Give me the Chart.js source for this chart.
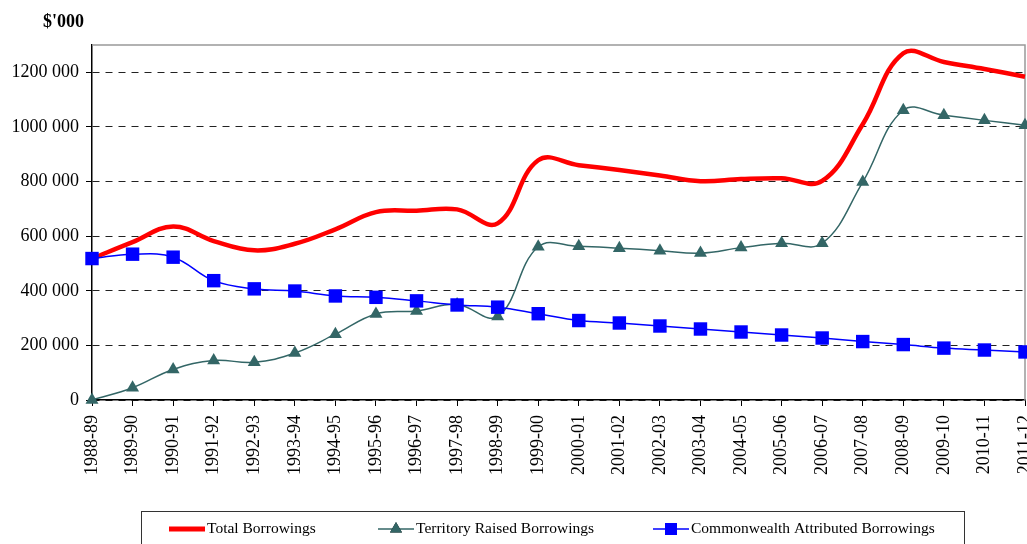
<!DOCTYPE html>
<html>
<head>
<meta charset="utf-8">
<script src="https://cdn.jsdelivr.net/npm/chart.js@4.4.0/dist/chart.umd.min.js"></script>
<style>
  html, body { margin: 0; padding: 0; background: #fff; overflow: hidden; }
  #wrap { width: 1027px; height: 544px; }
</style>
</head>
<body>
<div id="wrap"><canvas id="borrowings" width="1027" height="544"></canvas></div>
<script>
const years = ['1988-89', '1989-90', '1990-91', '1991-92', '1992-93', '1993-94', '1994-95', '1995-96',
  '1996-97', '1997-98', '1998-99', '1999-00', '2000-01', '2001-02', '2002-03', '2003-04', '2004-05',
  '2005-06', '2006-07', '2007-08', '2008-09', '2009-10', '2010-11', '2011-12'];

// $'000
const totalBorrowings = [518000, 578000, 635000, 582000, 548000, 572000, 625000, 688000, 693000, 698000,
  647000, 878000, 860000, 842000, 822000, 801000, 809000, 812000, 802000, 1010000, 1270000, 1238000,
  1212000, 1184000];
const territoryRaised = [0, 45000, 112000, 145000, 138000, 172000, 241000, 315000, 326000, 350000,
  306000, 561000, 563000, 556000, 547000, 538000, 558000, 574000, 574000, 798000, 1061000, 1043000,
  1024000, 1006000];
const commonwealthAttributed = [518000, 534000, 523000, 437000, 407000, 399000, 381000, 376000, 363000,
  348000, 340000, 316000, 291000, 282000, 271000, 260000, 249000, 238000, 227000, 214000, 203000,
  190000, 183000, 176000];

const yTicks = [0, 200000, 400000, 600000, 800000, 1000000, 1200000];
const unitLabel = "$'000";

const serif = '"Liberation Serif", "Times New Roman", serif';

// 1200000 -> "1200 000"
function fmt(v) {
  if (v < 1000) return String(v);
  return Math.floor(v / 1000) + ' ' + String(v % 1000).padStart(3, '0');
}

// plot frame (grey top/right edges)
const framePlugin = {
  id: 'frame',
  beforeDatasetsDraw(chart) {
    const { ctx, chartArea: a } = chart;
    ctx.save();
    ctx.strokeStyle = '#999';
    ctx.lineWidth = 1.5;
    ctx.beginPath();
    ctx.moveTo(a.left, a.top);
    ctx.lineTo(a.right, a.top);
    ctx.lineTo(a.right, a.bottom);
    ctx.stroke();
    ctx.restore();
  }
};

// unit label and boxed legend
const legendPlugin = {
  id: 'boxLegend',
  afterDraw(chart) {
    const ctx = chart.ctx;
    ctx.save();
    ctx.fillStyle = '#000';
    ctx.font = 'bold 18px ' + serif;
    ctx.textBaseline = 'middle';
    ctx.textAlign = 'left';
    ctx.fillText(unitLabel, 43, 22);

    ctx.strokeStyle = '#333';
    ctx.lineWidth = 1;
    ctx.strokeRect(141.5, 511.5, 823, 60);

    const y = 529;
    const slots = [169, 378, 653];
    ctx.font = '15.5px ' + serif;
    chart.data.datasets.forEach((ds, i) => {
      const x0 = slots[i], x1 = x0 + 36;
      ctx.strokeStyle = ds.borderColor;
      ctx.lineWidth = i === 0 ? 5 : 1.5;
      ctx.beginPath();
      ctx.moveTo(x0, y);
      ctx.lineTo(x1, y);
      ctx.stroke();
      if (ds.pointStyle === 'triangle') {
        Chart.helpers.drawPoint(ctx, { pointStyle: 'triangle', radius: 7, rotation: 0, borderWidth: 0 }, (x0 + x1) / 2, y);
        ctx.fillStyle = ds.pointBackgroundColor;
        ctx.fill();
      } else if (ds.pointStyle === 'rect') {
        ctx.fillStyle = ds.pointBackgroundColor;
        ctx.fillRect((x0 + x1) / 2 - 6, y - 6, 12, 12);
      }
      ctx.fillStyle = '#000';
      ctx.fillText(ds.label, x1 + 2, y);
    });
    ctx.restore();
  }
};

new Chart(document.getElementById('borrowings'), {
  type: 'line',
  data: {
    labels: years,
    datasets: [
      {
        label: 'Total Borrowings',
        data: totalBorrowings,
        borderColor: '#ff0000',
        borderWidth: 4.5,
        pointRadius: 0,
        tension: 0.4,
        order: 2,
        clip: false
      },
      {
        label: 'Territory Raised Borrowings',
        data: territoryRaised,
        borderColor: '#336666',
        borderWidth: 1.5,
        pointStyle: 'triangle',
        pointRadius: 7.5,
        pointBackgroundColor: '#336666',
        pointBorderWidth: 0,
        tension: 0.4,
        order: 1,
        clip: false
      },
      {
        label: 'Commonwealth Attributed Borrowings',
        data: commonwealthAttributed,
        borderColor: '#0000ff',
        borderWidth: 1.5,
        pointStyle: 'rect',
        pointRadius: 9.5,
        pointBackgroundColor: '#0000ff',
        pointBorderWidth: 0,
        tension: 0.4,
        order: 0,
        clip: false
      }
    ]
  },
  options: {
    responsive: false,
    devicePixelRatio: 1,
    animation: false,
    layout: { autoPadding: false, padding: { top: 45, right: 2, left: 0, bottom: 0 } },
    plugins: {
      legend: { display: false },
      tooltip: { enabled: false }
    },
    scales: {
      x: {
        offset: false,
        afterFit: s => { s.height = 144; s.paddingLeft = 0; s.paddingRight = 0; },
        grid: { display: true, drawOnChartArea: false, drawTicks: true, tickLength: 6, tickColor: '#000', tickWidth: 1 },
        border: { display: true, color: '#000', width: 1.5 },
        ticks: {
          autoSkip: false, minRotation: 90, maxRotation: 90, padding: 9,
          color: '#000', font: { family: serif, size: 18 }
        }
      },
      y: {
        min: 0,
        max: 1300000,
        afterFit: s => { s.width = 92; },
        afterBuildTicks: s => { s.ticks = yTicks.map(v => ({ value: v })); },
        grid: { color: '#222', lineWidth: 1, drawTicks: true, tickLength: 6, tickColor: '#000', tickBorderDash: [] },
        border: { display: true, color: '#000', width: 1.5, dash: [7, 6] },
        ticks: {
          padding: 7, color: '#000', font: { family: serif, size: 18 },
          callback: v => fmt(v)
        }
      }
    }
  },
  plugins: [framePlugin, legendPlugin]
});
</script>
</body>
</html>
